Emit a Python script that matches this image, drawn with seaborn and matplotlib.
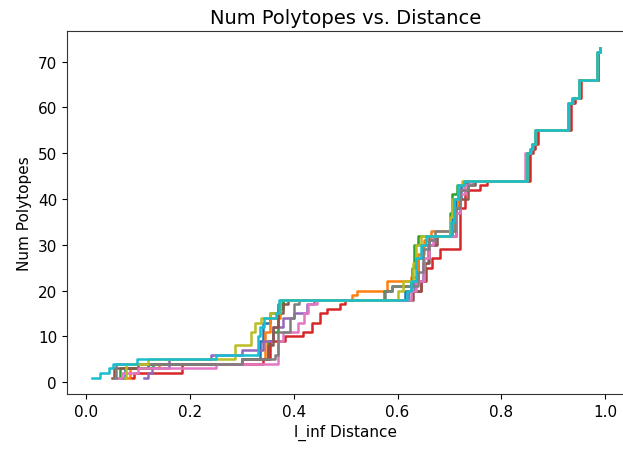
import seaborn as sns
import matplotlib.pyplot as plt
import pandas as pd

# step points (distance, polytope count) for each of the 10 runs
run0_d = [0.070, 0.075, 0.120, 0.300, 0.335, 0.340, 0.355, 0.370, 0.380, 0.615, 0.625, 0.640, 0.648, 0.660, 0.705, 0.712, 0.722, 0.732, 0.850, 0.856, 0.860, 0.866, 0.930, 0.937, 0.950, 0.985, 0.989]
run0_n = [1, 3, 4, 5, 9, 13, 15, 17, 18, 20, 22, 27, 30, 32, 36, 40, 43, 44, 50, 51, 52, 55, 61, 62, 66, 72, 73]

run1_d = [0.080, 0.085, 0.140, 0.300, 0.345, 0.355, 0.374, 0.512, 0.521, 0.580, 0.625, 0.640, 0.650, 0.665, 0.708, 0.716, 0.728, 0.850, 0.856, 0.860, 0.866, 0.930, 0.937, 0.950, 0.985, 0.989]
run1_n = [1, 3, 4, 5, 11, 14, 18, 19, 20, 22, 23, 28, 31, 33, 38, 42, 44, 50, 51, 52, 55, 61, 62, 66, 72, 73]

run2_d = [0.060, 0.065, 0.130, 0.300, 0.350, 0.360, 0.370, 0.380, 0.573, 0.590, 0.628, 0.632, 0.640, 0.700, 0.705, 0.715, 0.730, 0.850, 0.856, 0.860, 0.866, 0.930, 0.937, 0.950, 0.985, 0.989]
run2_n = [1, 3, 4, 5, 9, 11, 16, 18, 20, 21, 25, 30, 32, 37, 41, 43, 44, 50, 51, 52, 55, 61, 62, 66, 72, 73]

run3_d = [0.089, 0.093, 0.185, 0.340, 0.355, 0.383, 0.418, 0.435, 0.451, 0.464, 0.489, 0.499, 0.620, 0.645, 0.655, 0.666, 0.682, 0.720, 0.730, 0.759, 0.772, 0.790, 0.854, 0.860, 0.864, 0.870, 0.934, 0.941, 0.953, 0.986, 0.989]
run3_n = [1, 2, 4, 5, 9, 10, 11, 13, 15, 16, 17, 18, 20, 22, 25, 27, 29, 38, 42, 43, 44, 44, 50, 51, 52, 55, 61, 62, 66, 72, 73]

run4_d = [0.112, 0.120, 0.127, 0.160, 0.240, 0.300, 0.340, 0.360, 0.380, 0.400, 0.425, 0.440, 0.620, 0.632, 0.648, 0.658, 0.672, 0.712, 0.720, 0.735, 0.848, 0.856, 0.861, 0.866, 0.930, 0.937, 0.950, 0.985, 0.989]
run4_n = [1, 2, 3, 5, 6, 7, 9, 12, 14, 15, 17, 18, 20, 22, 26, 30, 32, 38, 42, 44, 50, 51, 52, 55, 61, 62, 66, 72, 73]

run5_d = [0.050, 0.055, 0.100, 0.300, 0.350, 0.360, 0.370, 0.380, 0.390, 0.630, 0.645, 0.652, 0.660, 0.675, 0.712, 0.720, 0.735, 0.750, 0.851, 0.857, 0.861, 0.867, 0.931, 0.938, 0.951, 0.985, 0.989]
run5_n = [1, 3, 4, 5, 8, 12, 15, 17, 18, 20, 22, 26, 30, 32, 37, 40, 43, 44, 50, 51, 52, 55, 61, 62, 66, 72, 73]

run6_d = [0.060, 0.070, 0.100, 0.250, 0.370, 0.380, 0.409, 0.420, 0.428, 0.445, 0.625, 0.635, 0.650, 0.660, 0.668, 0.712, 0.720, 0.730, 0.740, 0.846, 0.854, 0.859, 0.865, 0.929, 0.936, 0.949, 0.984, 0.989]
run6_n = [1, 2, 3, 4, 9, 11, 13, 15, 17, 18, 20, 22, 27, 30, 32, 37, 41, 43, 44, 50, 51, 52, 55, 61, 62, 66, 72, 73]

run7_d = [0.055, 0.057, 0.300, 0.364, 0.370, 0.393, 0.400, 0.410, 0.576, 0.590, 0.640, 0.648, 0.660, 0.672, 0.710, 0.720, 0.735, 0.745, 0.850, 0.856, 0.860, 0.866, 0.930, 0.937, 0.950, 0.985, 0.989]
run7_n = [1, 4, 5, 6, 11, 14, 17, 18, 20, 21, 24, 29, 31, 33, 38, 42, 43, 44, 50, 51, 52, 55, 61, 62, 66, 72, 73]

run8_d = [0.075, 0.078, 0.120, 0.287, 0.318, 0.325, 0.338, 0.355, 0.374, 0.600, 0.611, 0.630, 0.635, 0.645, 0.700, 0.705, 0.716, 0.724, 0.849, 0.855, 0.859, 0.865, 0.929, 0.936, 0.949, 0.984, 0.989]
run8_n = [1, 4, 5, 8, 11, 13, 14, 15, 18, 20, 22, 26, 30, 32, 36, 40, 43, 44, 50, 51, 52, 55, 61, 62, 66, 72, 73]

run9_d = [0.012, 0.028, 0.045, 0.052, 0.098, 0.250, 0.332, 0.336, 0.342, 0.365, 0.372, 0.618, 0.626, 0.635, 0.645, 0.655, 0.703, 0.708, 0.716, 0.727, 0.849, 0.855, 0.859, 0.865, 0.929, 0.936, 0.949, 0.984, 0.989]
run9_n = [1, 2, 3, 4, 5, 6, 10, 12, 14, 15, 18, 20, 22, 27, 30, 32, 35, 40, 43, 44, 50, 51, 52, 55, 61, 62, 66, 72, 73]

runs_d = [run0_d, run1_d, run2_d, run3_d, run4_d, run5_d, run6_d, run7_d, run8_d, run9_d]
runs_n = [run0_n, run1_n, run2_n, run3_n, run4_n, run5_n, run6_n, run7_n, run8_n, run9_n]

frames = []
for i, (d, n) in enumerate(zip(runs_d, runs_n)):
    frames.append(pd.DataFrame({"dist": d, "count": n, "run": i}))
df = pd.concat(frames, ignore_index=True)

fig = plt.figure(figsize=(6.23, 4.52), dpi=100)
ax = fig.add_axes([0.1072, 0.1261, 0.896, 0.8024])
sns.lineplot(data=df, x="dist", y="count", hue="run", palette="tab10",
             estimator=None, sort=False, drawstyle="steps-post",
             linewidth=1.8, legend=False, ax=ax)
ax.set_title("Num Polytopes vs. Distance", fontsize=14)
ax.set_xlabel("l_inf Distance", fontsize=11)
ax.set_ylabel("Num Polytopes", fontsize=11)
ax.tick_params(labelsize=11)
ax.set_xticks([0.0, 0.2, 0.4, 0.6, 0.8, 1.0])
for s in ax.spines.values():
    s.set_color("#333333")
plt.savefig("out.png", dpi=100)
